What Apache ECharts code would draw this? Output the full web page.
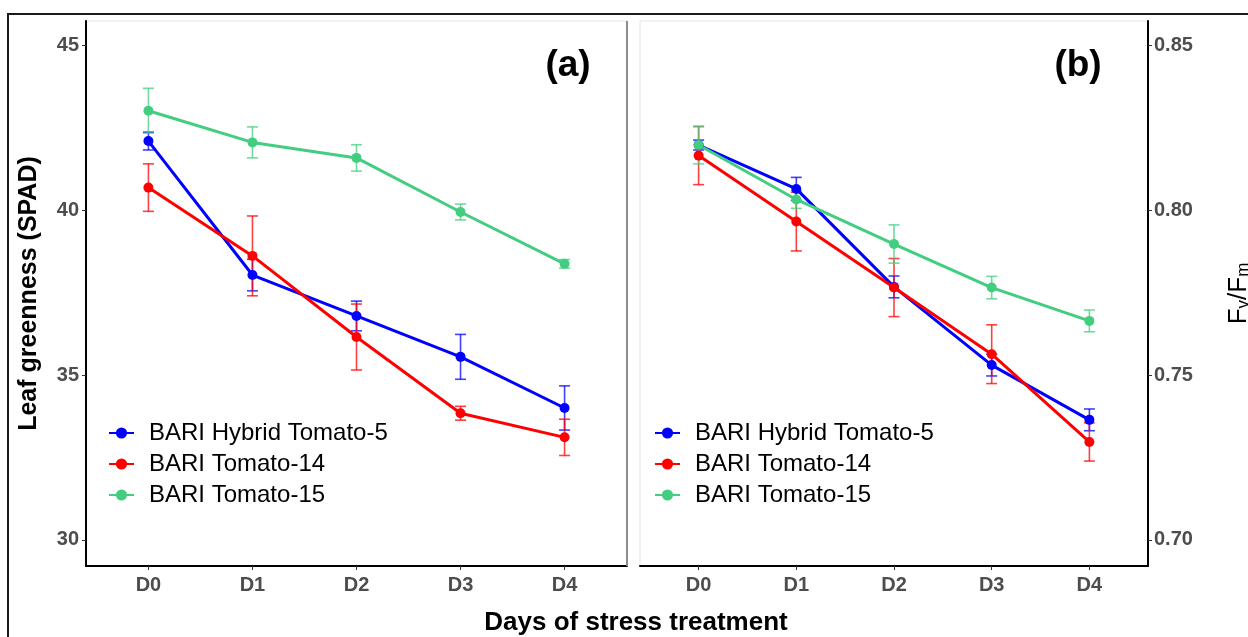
<!DOCTYPE html>
<html>
<head>
<meta charset="utf-8">
<script src="https://cdn.jsdelivr.net/npm/echarts@6/dist/echarts.min.js"></script>
<style>
  html, body { margin: 0; padding: 0; background: #fff; }
  #chart { width: 1248px; height: 637px; }
</style>
</head>
<body>
<div id="chart"></div>
<script>
// data
var days = ['D0', 'D1', 'D2', 'D3', 'D4'];
var names = ['BARI Hybrid Tomato-5', 'BARI Tomato-14', 'BARI Tomato-15'];
var colors = ['#0000FF', '#FF0000', '#43CD80'];

var spadTicks = [30, 35, 40, 45];
var fvTicks = [0.70, 0.75, 0.80, 0.85];

// panel (a) leaf greenness
var spadHybrid5 = [42.09, 38.03, 36.79, 35.55, 34.00];
var spadHybrid5Err = [0.27, 0.48, 0.45, 0.68, 0.67];
var spadTomato14 = [40.68, 38.61, 36.15, 33.84, 33.11];
var spadTomato14Err = [0.72, 1.21, 1.00, 0.21, 0.55];
var spadTomato15 = [43.01, 42.05, 41.58, 39.94, 38.37];
var spadTomato15Err = [0.68, 0.47, 0.40, 0.24, 0.13];

// panel (b) Fv/Fm
var fvHybrid5 = [0.8197, 0.8064, 0.7767, 0.7530, 0.7364];
var fvHybrid5Err = [0.0015, 0.0035, 0.0033, 0.0033, 0.0033];
var fvTomato14 = [0.8165, 0.7965, 0.7765, 0.7563, 0.7297];
var fvTomato14Err = [0.0088, 0.0089, 0.0088, 0.0089, 0.0058];
var fvTomato15 = [0.8197, 0.8032, 0.7897, 0.7765, 0.7664];
var fvTomato15Err = [0.0057, 0.0027, 0.0058, 0.0034, 0.0033];

var font = 'Liberation Sans, Arial, sans-serif';
var tickIdx = days.map(function (d, i) { return i; });

var chart = echarts.init(document.getElementById('chart'));

function errRender(color) {
  return function (params, api) {
    var x = api.value(0);
    var top = api.coord([x, api.value(2)]);
    var bot = api.coord([x, api.value(1)]);
    var hw = 5.5;
    var st = { stroke: color, lineWidth: 1.6, opacity: 0.75 };
    return {
      type: 'group',
      children: [
        { type: 'line', shape: { x1: top[0], y1: top[1], x2: bot[0], y2: bot[1] }, style: st },
        { type: 'line', shape: { x1: top[0] - hw, y1: top[1], x2: top[0] + hw, y2: top[1] }, style: st },
        { type: 'line', shape: { x1: bot[0] - hw, y1: bot[1], x2: bot[0] + hw, y2: bot[1] }, style: st }
      ]
    };
  };
}

var series = [];
function addPanel(idx, vals, errs) {
  for (var k = 0; k < vals.length; k++) {
    series.push({
      name: names[k],
      type: 'line',
      xAxisIndex: idx,
      yAxisIndex: idx,
      data: vals[k].map(function (v, i) { return [i, v]; }),
      symbol: 'circle',
      symbolSize: 10,
      lineStyle: { width: 3, color: colors[k] },
      itemStyle: { color: colors[k] },
      z: 3
    });
  }
  for (var j = 0; j < vals.length; j++) {
    var e = errs[j];
    series.push({
      name: names[j],
      type: 'custom',
      xAxisIndex: idx,
      yAxisIndex: idx,
      renderItem: errRender(colors[j]),
      encode: { x: 0, y: [1, 2] },
      data: vals[j].map(function (v, i) { return [i, v - e[i], v + e[i]]; }),
      z: 2
    });
  }
}
addPanel(0, [spadHybrid5, spadTomato14, spadTomato15], [spadHybrid5Err, spadTomato14Err, spadTomato15Err]);
addPanel(1, [fvHybrid5, fvTomato14, fvTomato15], [fvHybrid5Err, fvTomato14Err, fvTomato15Err]);

function xAxis(idx) {
  return {
    type: 'value',
    gridIndex: idx,
    min: -0.6,
    max: 4.6,
    axisLine: { onZero: false, lineStyle: { color: '#000', width: 2 } },
    axisTick: { customValues: tickIdx, length: 4, lineStyle: { color: '#333' } },
    axisLabel: {
      customValues: tickIdx,
      formatter: function (v) { return days[Math.round(v)]; },
      color: '#4d4d4d', fontWeight: 'bold', fontSize: 20, fontFamily: font, margin: 9
    },
    splitLine: { show: false }
  };
}

var legendBase = {
  orient: 'vertical',
  data: names,
  itemWidth: 25,
  itemHeight: 14,
  itemGap: 7,
  textStyle: { fontSize: 24, color: '#000', fontFamily: font, lineHeight: 24, padding: [0, 0, 0, 10] }
};

chart.setOption({
  animation: false,
  backgroundColor: '#fff',
  grid: [
    { left: 86, right: 621, top: 21, bottom: 71, outerBoundsMode: 'none', show: true, borderColor: '#e3e3e3', borderWidth: 1 },
    { left: 640, right: 100, top: 21, bottom: 71, outerBoundsMode: 'none', show: true, borderColor: '#e3e3e3', borderWidth: 1 }
  ],
  xAxis: [xAxis(0), xAxis(1)],
  yAxis: [
    {
      type: 'value', gridIndex: 0, position: 'left',
      min: 29.21, max: 45.73,
      name: 'Leaf greenness (SPAD)',
      nameLocation: 'middle', nameGap: 44,
      nameTextStyle: { fontSize: 25, fontWeight: 'bold', color: '#000', fontFamily: font },
      axisLine: { show: true, onZero: false, lineStyle: { color: '#000', width: 2 } },
      axisTick: { show: true, customValues: spadTicks, length: 4, lineStyle: { color: '#333' } },
      axisLabel: { customValues: spadTicks, color: '#4d4d4d', fontWeight: 'bold', fontSize: 20, fontFamily: font, margin: 7 },
      splitLine: { show: false }
    },
    {
      type: 'value', gridIndex: 1, position: 'right',
      min: 0.6921, max: 0.8573,
      name: 'F{s|v}/F{s|m}',
      nameLocation: 'middle', nameGap: 78, nameRotate: 90,
      nameTextStyle: {
        fontSize: 26, color: '#000', fontFamily: font,
        rich: { s: { fontSize: 17, color: '#000', fontFamily: font, verticalAlign: 'bottom' } }
      },
      axisLine: { show: true, onZero: false, lineStyle: { color: '#000', width: 2 } },
      axisTick: { show: true, customValues: fvTicks, length: 4, lineStyle: { color: '#333' } },
      axisLabel: {
        customValues: fvTicks,
        formatter: function (v) { return v.toFixed(2); },
        color: '#4d4d4d', fontWeight: 'bold', fontSize: 20, fontFamily: font, margin: 6
      },
      splitLine: { show: false }
    }
  ],
  legend: [
    Object.assign({}, legendBase, { left: 103, top: 416 }),
    Object.assign({}, legendBase, { left: 649, top: 416 })
  ],
  graphic: [
    { type: 'rect', shape: { x: 8, y: 14, width: 1300, height: 700 }, style: { fill: 'none', stroke: '#1a1a1a', lineWidth: 2 }, z: 100 },
    { type: 'line', shape: { x1: 627, y1: 21, x2: 627, y2: 566 }, style: { stroke: '#8c8c8c', lineWidth: 2 }, z: 100 },
    { type: 'text', x: 568, y: 66, style: { text: '(a)', fill: '#000', font: 'bold 37px ' + font, textAlign: 'center', textVerticalAlign: 'middle' }, z: 100 },
    { type: 'text', x: 1078, y: 66, style: { text: '(b)', fill: '#000', font: 'bold 37px ' + font, textAlign: 'center', textVerticalAlign: 'middle' }, z: 100 },
    { type: 'text', x: 636, y: 623, style: { text: 'Days of stress treatment', fill: '#000', font: 'bold 26px ' + font, textAlign: 'center', textVerticalAlign: 'middle' }, z: 100 }
  ],
  series: series
});
</script>
</body>
</html>
